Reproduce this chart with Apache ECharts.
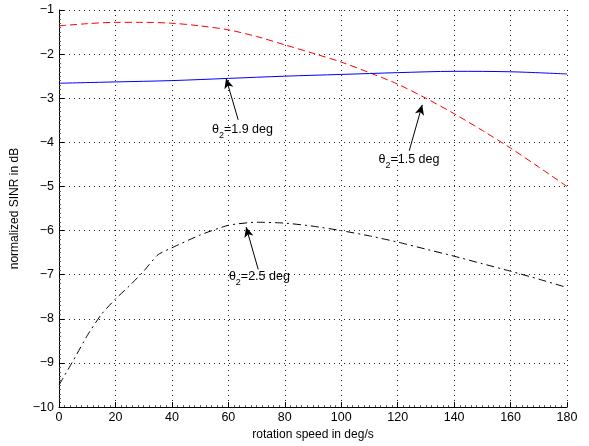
<!DOCTYPE html>
<html><head><meta charset="utf-8">
<script src="https://cdn.jsdelivr.net/npm/echarts@6/dist/echarts.min.js"></script>
<style>html,body{margin:0;padding:0;background:#fff}#c{width:589px;height:446px}</style>
</head><body><div id="c"></div>
<script>
const redX = [0,10,20,30,40,50,60,70,80,90,100,110,120,130,140,150,160,170,180];
const redY = [-1.36,-1.31,-1.28,-1.28,-1.30,-1.36,-1.45,-1.60,-1.79,-1.98,-2.18,-2.42,-2.68,-3.00,-3.35,-3.73,-4.13,-4.56,-5.00];
const blueX = [0,20,40,60,80,100,120,140,160,180];
const blueY = [-2.66,-2.63,-2.60,-2.55,-2.50,-2.46,-2.42,-2.39,-2.40,-2.45];
const blackX = [0,5,10,15,20,25,30,35,40,50,60,70,80,90,100,110,120,130,140,150,160,170,180];
const blackY = [-9.5,-8.95,-8.38,-7.9,-7.55,-7.25,-6.92,-6.55,-6.39,-6.1,-5.88,-5.81,-5.83,-5.9,-6.0,-6.12,-6.26,-6.42,-6.58,-6.75,-6.92,-7.1,-7.29];
const labelValues = ['1.9', '1.5', '2.5'];
const xName = 'rotation speed in deg/s';
const yName = 'normalized SINR in dB';

const font = 'Liberation Sans, Arial, Helvetica, sans-serif';
const pairs = (xs, ys) => xs.map((x, i) => [x, ys[i]]);
function ann(tail, tip, textPos, val) {
  return {
    markLine: {
      silent: true, symbol: ['none', 'arrow'], symbolSize: [7, 10],
      lineStyle: { color: '#000', width: 1, type: 'solid' },
      label: { show: false },
      data: [[{ coord: tail }, { coord: tip }]]
    },
    markPoint: {
      silent: true, symbol: 'circle', symbolSize: 0,
      label: {
        show: true, position: 'inside', color: '#000', fontFamily: font,
        formatter: '{t|θ}{s|2}{t|=' + val + ' deg}',
        rich: {
          t: { fontSize: 12.5, fontFamily: font, color: '#000', lineHeight: 22, verticalAlign: 'middle' },
          s: { fontSize: 9, fontFamily: font, color: '#000', lineHeight: 22, verticalAlign: 'bottom', padding: [0, 0, 1, 0] }
        }
      },
      data: [{ coord: textPos }]
    }
  };
}
const chart = echarts.init(document.getElementById('c'), null, { renderer: 'canvas' });
const axisCommon = {
  type: 'value',
  axisLine: { show: true, lineStyle: { color: '#000', width: 1 } },
  axisTick: { show: true, inside: true, length: 5, lineStyle: { color: '#000' } },
  minorTick: { show: true, splitNumber: 10, length: 2, lineStyle: { color: '#555' } },
  splitLine: { show: true, lineStyle: { color: '#222', type: [1, 4], width: 1 } },
  axisLabel: { color: '#000', fontSize: 12.5, fontFamily: font, formatter: v => String(v).replace('-', '\u2212') },
  nameTextStyle: { color: '#000', fontSize: 12, fontFamily: font },
  nameLocation: 'middle'
};
chart.setOption({
  animation: false,
  backgroundColor: '#fff',
  grid: { left: 59, right: 22, top: 10, bottom: 35, containLabel: false },
  xAxis: Object.assign({}, axisCommon, { min: 0, max: 180, interval: 20, name: xName, nameGap: 19,
    axisLabel: Object.assign({}, axisCommon.axisLabel, { margin: 4 }) }),
  yAxis: Object.assign({}, axisCommon, { min: -10, max: -1, interval: 1, name: yName, nameGap: 38,
    axisLabel: Object.assign({}, axisCommon.axisLabel, { margin: 5 }) }),
  series: [
    Object.assign({ type: 'line', data: pairs(redX, redY), showSymbol: false, smooth: 0.3,
      lineStyle: { color: '#ff0000', width: 1, type: [7, 4] } },
      ann([124.1, -4.19], [128.7, -3.15], [124.0, -4.40], labelValues[1])),
    Object.assign({ type: 'line', data: pairs(blueX, blueY), showSymbol: false, smooth: 0.3,
      lineStyle: { color: '#0000ff', width: 1, type: 'solid' } },
      ann([63.5, -3.49], [59.2, -2.55], [65.0, -3.72], labelValues[0])),
    Object.assign({ type: 'line', data: pairs(blackX, blackY), showSymbol: false, smooth: 0.2,
      lineStyle: { color: '#000', width: 1, type: [8, 4, 2, 4] } },
      ann([70.6, -6.88], [66.3, -5.92], [71.0, -7.05], labelValues[2]))
  ]
});
</script></body></html>
